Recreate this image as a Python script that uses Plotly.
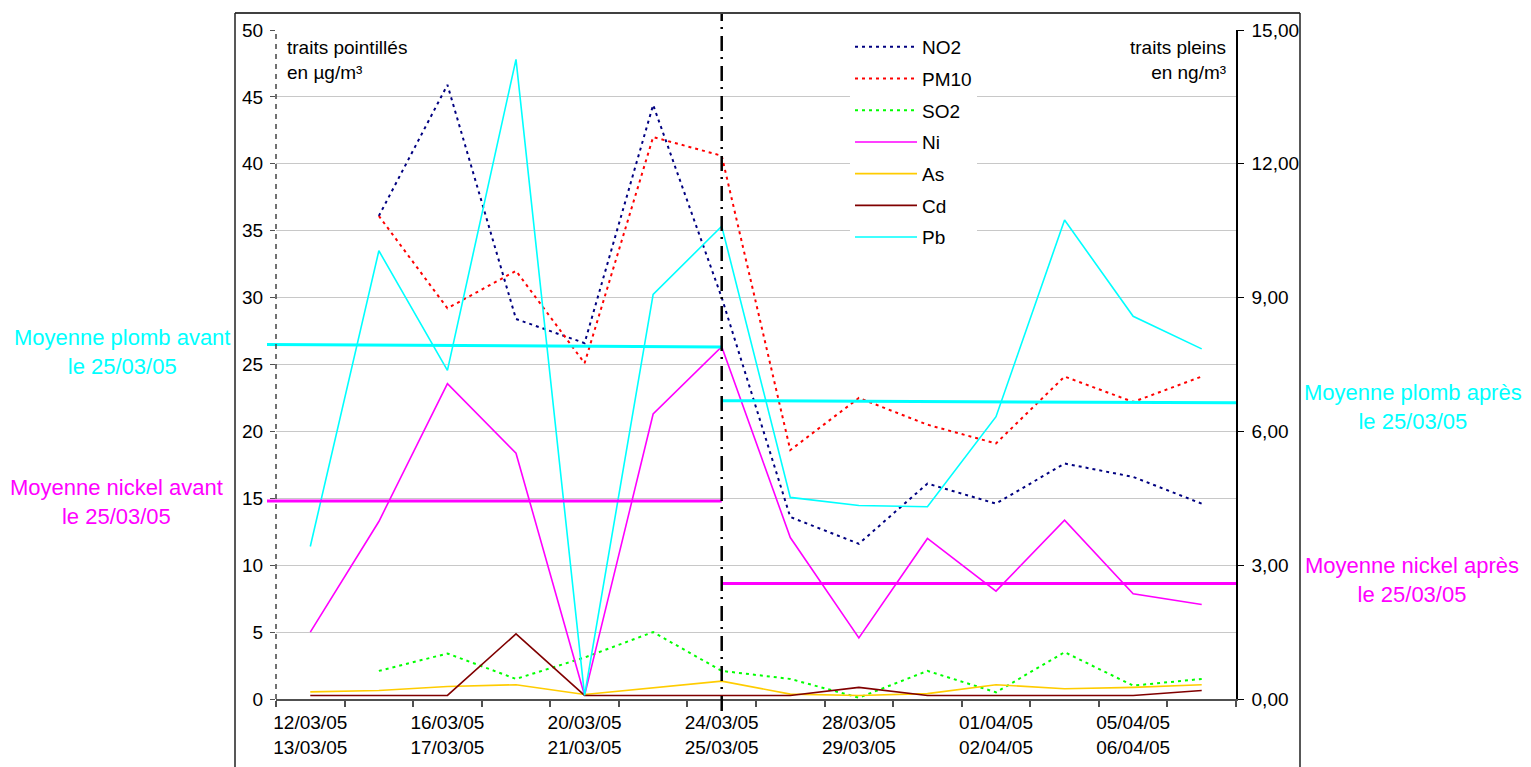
import plotly.graph_objects as go

# ---------------- data ----------------
categories = ["12/03/05<br>13/03/05", "14/03/05<br>15/03/05", "16/03/05<br>17/03/05",
              "18/03/05<br>19/03/05", "20/03/05<br>21/03/05", "22/03/05<br>23/03/05",
              "24/03/05<br>25/03/05", "26/03/05<br>27/03/05", "28/03/05<br>29/03/05",
              "30/03/05<br>31/03/05", "01/04/05<br>02/04/05", "03/04/05<br>04/04/05",
              "05/04/05<br>06/04/05", "07/04/05<br>08/04/05"]

# dotted lines, µg/m³ (left axis)
no2 = [None, 36.1, 45.9, 28.4, 26.6, 44.4, 30.0, 13.6, 11.6, 16.1, 14.6, 17.6, 16.6, 14.6]
pm10 = [None, 36.1, 29.2, 32.0, 25.1, 42.0, 40.6, 18.6, 22.5, 20.5, 19.1, 24.1, 22.2, 24.1]
so2 = [None, 2.1, 3.4, 1.5, 3.1, 5.0, 2.1, 1.5, 0.1, 2.1, 0.5, 3.5, 1.0, 1.5]

# solid lines, ng/m³ (right axis)
ni = [1.50, 3.98, 7.07, 5.51, 0.08, 6.39, 7.90, 3.62, 1.37, 3.60, 2.42, 4.01, 2.36, 2.12]
as_ = [0.16, 0.19, 0.28, 0.32, 0.10, 0.25, 0.40, 0.11, 0.08, 0.12, 0.32, 0.23, 0.26, 0.32]
cd = [0.08, 0.08, 0.08, 1.46, 0.08, 0.08, 0.08, 0.08, 0.26, 0.08, 0.08, 0.08, 0.08, 0.19]
pb = [3.42, 10.05, 7.37, 14.34, 0.08, 9.07, 10.60, 4.52, 4.34, 4.31, 6.33, 10.74, 8.58, 7.85]

# averages (ng/m³) before / after 25/03/05 (start, end of drawn line)
pb_avg_before = [7.95, 7.89]
pb_avg_after = [6.69, 6.64]
ni_avg_before = [4.44, 4.44]
ni_avg_after = [2.59, 2.59]
split_index = 6  # 24/03/05 - 25/03/05

left_ticks = list(range(0, 51, 5))
right_ticks = [0, 3, 6, 9, 12, 15]

# ---------------- figure ----------------
FONT = "Liberation Sans, Arial, sans-serif"
W, H = 1531, 767
ML, MR, MT, MB = 276, 295, 30, 68
PW, PH = W - ML - MR, H - MT - MB
N = len(categories)
FS = 19


def px(xp):
    return (xp - ML) / PW


def py(yp):
    return (H - MB - yp) / PH


def cat_paper(i):
    return (i + 0.5) / N


x = list(range(N))
fig = go.Figure()

dot = "3px,4px"
series = [
    ("NO2", no2, "#000080", dot, "y"),
    ("PM10", pm10, "#FF0000", dot, "y"),
    ("SO2", so2, "#00FF00", dot, "y"),
    ("Ni", ni, "#FF00FF", "solid", "y2"),
    ("As", as_, "#FFCC00", "solid", "y2"),
    ("Cd", cd, "#800000", "solid", "y2"),
    ("Pb", pb, "#00FFFF", "solid", "y2"),
]
for name, vals, col, dash, ax in series:
    fig.add_trace(go.Scatter(
        x=x, y=vals, name=name, mode="lines", yaxis=ax, legendgroup=name,
        line=dict(color=col, width=2 if dash != "solid" else 1.6, dash=dash),
        connectgaps=False, hoverinfo="skip"))

shapes = []
# average lines
shapes.append(dict(type="line", xref="paper", yref="y2", x0=px(267), x1=cat_paper(split_index),
                   y0=pb_avg_before[0], y1=pb_avg_before[1], line=dict(color="#00FFFF", width=3)))
shapes.append(dict(type="line", xref="paper", yref="y2", x0=px(267), x1=cat_paper(split_index),
                   y0=ni_avg_before[0], y1=ni_avg_before[1], line=dict(color="#FF00FF", width=3)))
shapes.append(dict(type="line", xref="x", yref="y2", x0=split_index, x1=N - 0.5,
                   y0=pb_avg_after[0], y1=pb_avg_after[1], line=dict(color="#00FFFF", width=3)))
shapes.append(dict(type="line", xref="x", yref="y2", x0=split_index, x1=N - 0.5,
                   y0=ni_avg_after[0], y1=ni_avg_after[1], line=dict(color="#FF00FF", width=3)))
# vertical dash-dot separator
shapes.append(dict(type="line", xref="x", yref="paper", x0=split_index, x1=split_index,
                   y0=py(711), y1=py(13), line=dict(color="black", width=2.5, dash="15px,7px,2px,6px")))
# dashed left axis
shapes.append(dict(type="line", xref="paper", yref="paper", x0=0, x1=0, y0=0, y1=1,
                   line=dict(color="#444444", width=1.5, dash="5px,5px")))
# outer chart box
bx0, bx1, by1 = px(235), px(1300), py(13)
shapes.append(dict(type="line", xref="paper", yref="paper", x0=bx0, x1=bx1, y0=by1, y1=by1,
                   line=dict(color="#404040", width=2)))
shapes.append(dict(type="line", xref="paper", yref="paper", x0=bx0, x1=bx0, y0=-0.2, y1=by1,
                   line=dict(color="#202020", width=1.5)))
shapes.append(dict(type="line", xref="paper", yref="paper", x0=bx1, x1=bx1, y0=-0.2, y1=by1,
                   line=dict(color="#202020", width=1.5)))

annotations = [
    dict(text="traits pointillés<br>en µg/m³", x=px(285), y=py(60), xanchor="left", yanchor="middle",
         align="left", font=dict(size=FS, color="black", family=FONT)),
    dict(text="traits pleins<br>en ng/m³", x=px(1228), y=py(60), xanchor="right", yanchor="middle",
         align="right", font=dict(size=FS, color="black", family=FONT)),
    dict(text="Moyenne plomb avant<br>le 25/03/05", x=px(122), y=py(352), xanchor="center", yanchor="middle",
         align="center", font=dict(size=22, color="#00FFFF", family=FONT)),
    dict(text="Moyenne nickel avant<br>le 25/03/05", x=px(116), y=py(502), xanchor="center", yanchor="middle",
         align="center", font=dict(size=22, color="#FF00FF", family=FONT)),
    dict(text="Moyenne plomb après<br>le 25/03/05", x=px(1413), y=py(407), xanchor="center", yanchor="middle",
         align="center", font=dict(size=22, color="#00FFFF", family=FONT)),
    dict(text="Moyenne nickel après<br>le 25/03/05", x=px(1412), y=py(580), xanchor="center", yanchor="middle",
         align="center", font=dict(size=22, color="#FF00FF", family=FONT)),
]
for a in annotations:
    a.update(xref="paper", yref="paper", showarrow=False)

fig.update_layout(
    width=W, height=H,
    margin=dict(l=ML, r=MR, t=MT, b=MB, pad=0, autoexpand=False),
    paper_bgcolor="white", plot_bgcolor="white",
    font=dict(family=FONT, size=FS, color="black"),
    separators=", ",
    showlegend=True,
    legend=dict(x=px(850), y=py(28), xanchor="left", yanchor="top",
                bgcolor="white", borderwidth=0, font=dict(size=FS, family=FONT),
                itemwidth=62, tracegroupgap=4, traceorder="grouped"),
    xaxis=dict(range=[-0.5, N - 0.5], tickmode="array", tickvals=x[::2],
               ticktext=categories[::2], ticks="", showgrid=False, zeroline=False,
               showline=True, linecolor="#505050", linewidth=2, automargin=False,
               tickfont=dict(size=FS, family=FONT), ticklabelstandoff=5,
               minor=dict(tickmode="array", tickvals=[i - 0.5 for i in range(N + 1)],
                          ticks="outside", ticklen=6, tickcolor="#505050", tickwidth=1.5,
                          showgrid=False)),
    yaxis=dict(range=[0, 50], tickmode="array", tickvals=left_ticks, showgrid=True,
               gridcolor="#C8C8C8", gridwidth=1, zeroline=False, showline=False,
               ticks="outside", ticklen=5, tickcolor="#505050", ticklabelstandoff=3,
               automargin=False, tickfont=dict(size=FS, family=FONT)),
    yaxis2=dict(range=[0, 15], tickmode="array", tickvals=right_ticks, tickformat=".2f",
                overlaying="y", side="right", showgrid=False, zeroline=False,
                showline=True, linecolor="black", linewidth=1.5, automargin=False,
                ticks="outside", ticklen=6, tickcolor="black", ticklabelstandoff=4,
                tickfont=dict(size=FS, family=FONT)),
    shapes=shapes,
    annotations=annotations,
)

fig.write_html("out.html", config={"displayModeBar": False},
               post_script="document.body.style.margin='0';document.body.style.overflow='hidden';")
